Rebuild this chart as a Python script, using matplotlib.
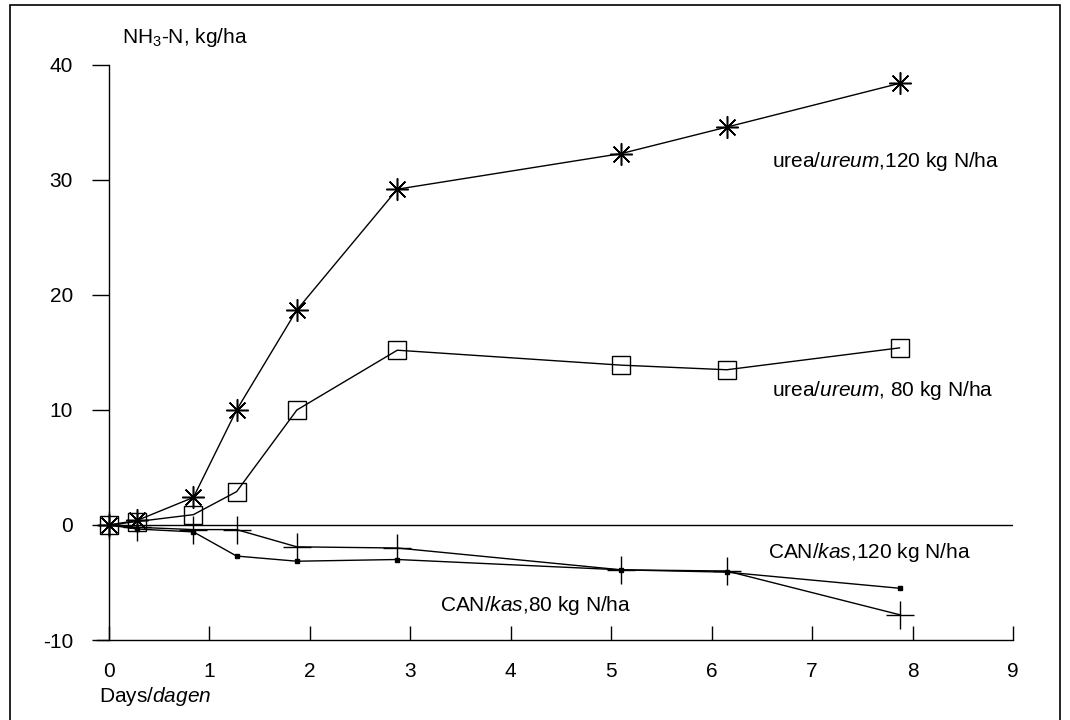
"""NH3-N volatilisation after urea and CAN application."""

import matplotlib

matplotlib.use("Agg")
import matplotlib.pyplot as plt
from matplotlib.patches import Rectangle

plt.rcParams["font.family"] = ["Liberation Sans", "DejaVu Sans"]
plt.rcParams["mathtext.fontset"] = "custom"
plt.rcParams["mathtext.rm"] = "Liberation Sans"
plt.rcParams["mathtext.it"] = "Liberation Sans:italic"
plt.rcParams["axes.unicode_minus"] = False

# sampling times (days)
days = [0, 0.28, 0.84, 1.27, 1.87, 2.87, 5.10, 6.15, 7.87]

# cumulative NH3-N loss, kg/ha
urea_120 = [0, 0.4, 2.4, 10.0, 18.7, 29.2, 32.3, 34.6, 38.4]
urea_80 = [0, 0.3, 0.9, 2.9, 10.0, 15.2, 13.9, 13.5, 15.4]
can_plus = [0, -0.2, -0.4, -0.4, -1.9, -2.0, -3.9, -4.0, -7.8]
can_dot = [0, -0.35, -0.6, -2.7, -3.15, -3.0, -3.9, -4.1, -5.5]

x_ticks = [0, 1, 2, 3, 4, 5, 6, 7, 8, 9]
y_ticks = [-10, 0, 10, 20, 30, 40]

FS = 15

fig = plt.figure(figsize=(10.7, 7.2), dpi=100)
ax = fig.add_axes([97 / 1070, 80 / 720, 916 / 1070, 575 / 720])

ax.plot(days, urea_120, color="black", lw=1.0, marker=(8, 2, 0),
        ms=16, mew=1.1, mec="black")
ax.plot(days, urea_80, color="black", lw=1.0, marker="s", ms=13,
        mfc="none", mec="black", mew=1.0)
ax.plot(days, can_plus, color="black", lw=1.0, marker="+", ms=20, mew=1.0)
ax.plot(days, can_dot, color="black", lw=1.0, marker="s", ms=3.5,
        mfc="black", mec="black")

ax.hlines(0, 0, 9, color="black", lw=1.0)

ax.set_xlim(-0.12, 9)
ax.set_ylim(-10, 40)
ax.spines["top"].set_visible(False)
ax.spines["right"].set_visible(False)
ax.spines["left"].set_position(("data", 0))
ax.spines["left"].set_linewidth(1.0)
ax.spines["bottom"].set_linewidth(1.0)

ax.set_xticks(x_ticks)
ax.set_yticks(y_ticks)
ax.tick_params(axis="x", direction="in", length=10, width=1.0,
               labelsize=FS, pad=16)
ax.tick_params(axis="y", direction="out", length=12, width=1.0,
               labelsize=FS, pad=14)

ax.text(0.13, 42.4, "NH$_3$-N, kg/ha", fontsize=FS, va="center",
        clip_on=False)
ax.text(6.6, 31.6, r"urea/$\mathit{ureum}$,120 kg N/ha", fontsize=FS,
        va="center")
ax.text(6.6, 11.7, r"urea/$\mathit{ureum}$, 80 kg N/ha", fontsize=FS,
        va="center")
ax.text(6.56, -2.4, r"CAN/$\mathit{kas}$,120 kg N/ha", fontsize=FS,
        va="center")
ax.text(3.3, -7.0, r"CAN/$\mathit{kas}$,80 kg N/ha", fontsize=FS,
        va="center")
ax.text(-0.1, -14.9, r"Days/$\mathit{dagen}$", fontsize=FS, va="center",
        clip_on=False)

# page frame
fig.patches.append(Rectangle((10 / 1070, -0.01), 1050 / 1070,
                             715 / 720 + 0.01, fill=False,
                             ec="black", lw=1.2, transform=fig.transFigure))

fig.savefig("out.png", dpi=100)
plt.close(fig)
